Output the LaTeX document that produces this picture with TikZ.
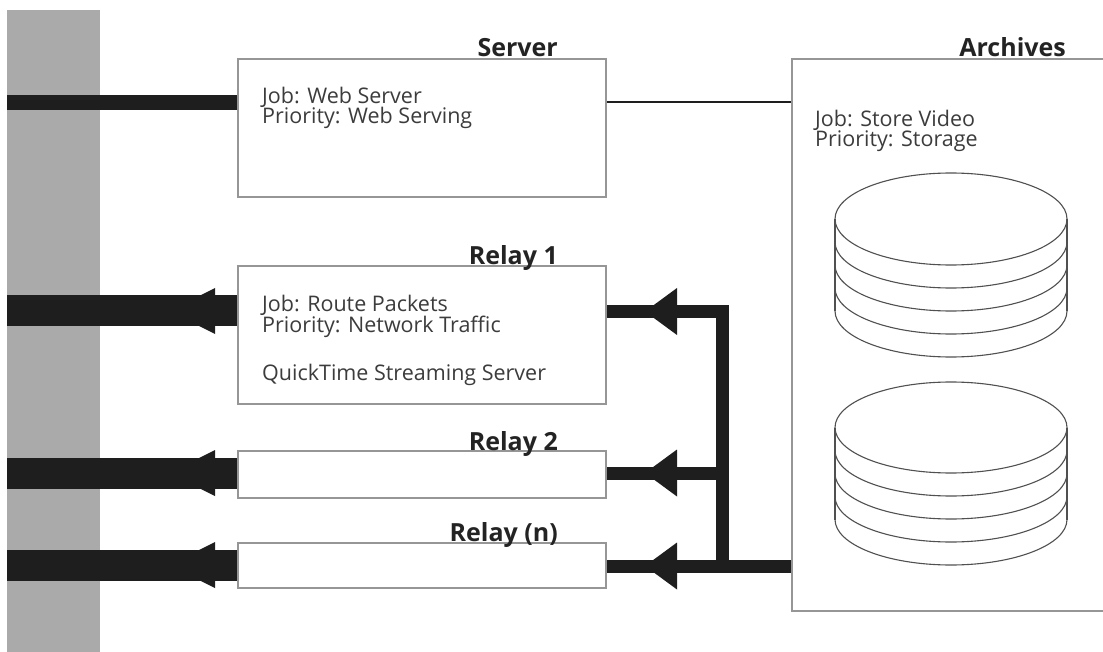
\documentclass[tikz,border=0pt]{standalone}
\usepackage{fontspec}
\setmainfont{Open Sans}
\definecolor{backbonegray}{RGB}{170,170,170}
\definecolor{barblack}{RGB}{30,30,30}
\definecolor{boxgray}{RGB}{150,150,150}
\definecolor{txtgray}{RGB}{60,60,60}
\definecolor{lblblack}{RGB}{35,35,35}
\definecolor{diskgray}{RGB}{80,80,80}
\begin{document}
\begin{tikzpicture}[x=1pt,y=-1pt,
  box/.style={draw=boxgray, line width=1.6pt, fill=white, inner sep=0pt, anchor=north west},
  txt/.style={anchor=base west, inner sep=0pt, text=txtgray, font=\fontsize{21.5}{22}\selectfont},
  lbl/.style={anchor=base east, inner sep=0pt, text=lblblack, font=\bfseries\fontsize{25}{27}\selectfont},
  fatbar/.style={line width=31pt, draw=barblack},
  serverbar/.style={line width=15pt, draw=barblack},
  feedbar/.style={line width=13pt, draw=barblack, line join=miter},
  thinline/.style={line width=2.4pt, draw=barblack},
  headfill/.style={fill=barblack},
  disk/.style={draw=diskgray, line width=1.1pt}]
\useasboundingbox (0,0) rectangle (1103,652);
\clip (0,0) rectangle (1103,652);

% backbone
\node[fill=backbonegray, inner sep=0pt, minimum width=93pt, minimum height=660pt, anchor=north west] (backbone) at (7,10) {};

% connector end points
\coordinate (srvW) at (237,103);
\coordinate (srvE) at (605,102);
\coordinate (arcWs) at (791,102);
\coordinate (r1W) at (237,311);
\coordinate (r2W) at (237,473);
\coordinate (rnW) at (237,565);
\coordinate (bb1) at (7,311);
\coordinate (bb2) at (7,473);
\coordinate (bbn) at (7,565);
\coordinate (bbs) at (7,103);
\coordinate (r1E) at (605,311.5);
\coordinate (r2E) at (605,473);
\coordinate (rnE) at (605,566);
\coordinate (jt) at (722,311.5);
\coordinate (j2) at (722,473);
\coordinate (jn) at (722,566);
\coordinate (arcWn) at (791,566);

% left bars
\draw[serverbar] (bbs) -- (srvW);
\draw[fatbar] (bb1) -- (r1W);
\draw[fatbar] (bb2) -- (r2W);
\draw[fatbar] (bbn) -- (rnW);
\foreach \yy in {311,473,565}{
  \fill[headfill] (215,\yy-23) -- (215,\yy+23) -- (169,\yy) -- cycle;
}

% right feed bars
\draw[feedbar] (r1E) -- (jt) -- (722,572.5);
\draw[feedbar] (r2E) -- (j2);
\draw[feedbar] (rnE) -- (arcWn);
\foreach \yy in {311.5,473,566}{
  \fill[headfill] (677,\yy-23.5) -- (677,\yy+23.5) -- (645,\yy) -- cycle;
}

% server to archives
\draw[thinline] (srvE) -- (arcWs);

% boxes
\node[box, minimum width=368pt, minimum height=138pt] (server) at (237,58) {};
\node[box, minimum width=368pt, minimum height=138pt] (relay1) at (237,265) {};
\node[box, minimum width=368pt, minimum height=47pt] (relay2) at (237,450) {};
\node[box, minimum width=368pt, minimum height=45pt] (relayn) at (237,542) {};
\node[box, minimum width=330pt, minimum height=552pt] (archives) at (791,58) {};

% labels
\node[lbl] (lserver) at (558,57) {Server};
\node[lbl] (lrelay1) at (558,265) {Relay 1};
\node[lbl] (lrelay2) at (558,450) {Relay 2};
\node[lbl] (lrelayn) at (558,541) {Relay (n)};
\node[lbl] (larch) at (1066,57) {Archives};

% texts
\node[txt] (s1) at (262,104) {Job: Web Server};
\node[txt] (s2) at (262,124) {Priority: Web Serving};
\node[txt] (r11) at (262,312) {Job: Route Packets};
\node[txt] (r12) at (262,333) {Priority: Network Traffic};
\node[txt] (r13) at (262,380) {QuickTime Streaming Server};
\node[txt] (a1) at (815,127) {Job: Store Video};
\node[txt] (a2) at (815,147) {Priority: Storage};

% disk stacks
\foreach \cy/\ry in {219/46, 427.5/45.5}{
  \draw[disk] (951,\cy) ellipse [x radius=116pt, y radius=\ry pt];
  \foreach \k in {1,2,3,4}{
    \draw[disk] (835,\cy+23*\k) arc [start angle=180, end angle=360, x radius=116pt, y radius=\ry pt];
  }
  \draw[disk] (835,\cy) -- (835,\cy+92);
  \draw[disk] (1067,\cy) -- (1067,\cy+92);
}
\end{tikzpicture}
\end{document}
